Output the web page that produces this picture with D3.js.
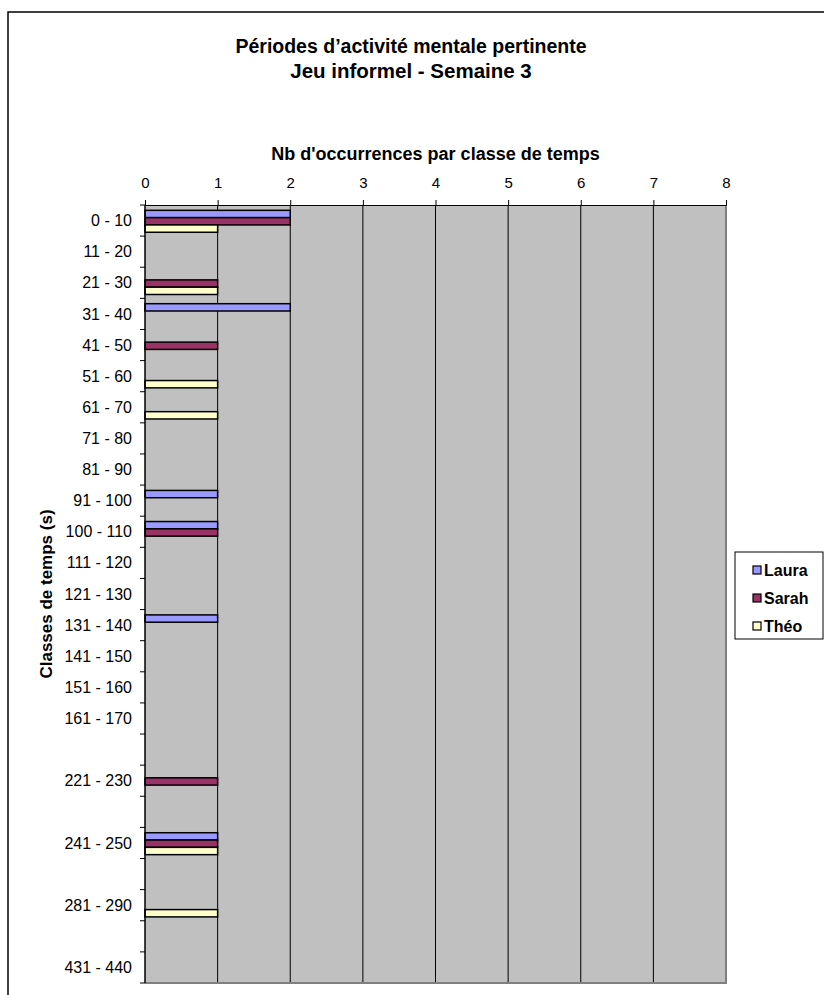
<!DOCTYPE html>
<html>
<head>
<meta charset="utf-8">
<script src="https://cdn.jsdelivr.net/npm/d3@7"></script>
<style>
  html, body { margin: 0; padding: 0; background: #fff; }
  svg { display: block; font-family: "Liberation Sans", Arial, sans-serif; }
</style>
</head>
<body>
<svg id="chart" width="824" height="995"></svg>
<script>
// Time classes (seconds); empty strings are rows without a label
const categories = [
  "0 - 10", "11 - 20", "21 - 30", "31 - 40", "41 - 50", "51 - 60",
  "61 - 70", "71 - 80", "81 - 90", "91 - 100", "100 - 110", "111 - 120",
  "121 - 130", "131 - 140", "141 - 150", "151 - 160", "161 - 170", "",
  "221 - 230", "", "241 - 250", "", "281 - 290", "", "431 - 440"
];
const seriesNames = ["Laura", "Sarah", "Théo"];
const seriesColors = ["#9999ff", "#993366", "#ffffcc"];
const laura = [2, 0, 0, 2, 0, 0, 0, 0, 0, 1, 1, 0, 0, 1, 0, 0, 0, 0, 0, 0, 1, 0, 0, 0, 0];
const sarah = [2, 0, 1, 0, 1, 0, 0, 0, 0, 0, 1, 0, 0, 0, 0, 0, 0, 0, 1, 0, 1, 0, 0, 0, 0];
const theo  = [1, 0, 1, 0, 0, 1, 1, 0, 0, 0, 0, 0, 0, 0, 0, 0, 0, 0, 0, 0, 1, 0, 1, 0, 0];
const xTicks = [0, 1, 2, 3, 4, 5, 6, 7, 8];

const titleLine1 = "Périodes d’activité mentale pertinente";
const titleLine2 = "Jeu informel - Semaine 3";
const xTitle = "Nb d'occurrences par classe de temps";
const yTitle = "Classes de temps (s)";

const seriesValues = [laura, sarah, theo];

const svg = d3.select("#chart");
const plot = { left: 145, right: 726, top: 205, bottom: 983 };

// Outer chart frame (runs past the right and bottom edges)
svg.append("rect")
  .attr("x", 8).attr("y", 12)
  .attr("width", 900).attr("height", 1100)
  .attr("fill", "none").attr("stroke", "#000").attr("stroke-width", 1.5);

// Titles
svg.append("text").attr("x", 411).attr("y", 53)
  .attr("text-anchor", "middle").attr("font-weight", "bold").attr("font-size", 19.5)
  .text(titleLine1);
svg.append("text").attr("x", 411).attr("y", 78)
  .attr("text-anchor", "middle").attr("font-weight", "bold").attr("font-size", 20.5)
  .text(titleLine2);

const x = d3.scaleLinear().domain([0, 8]).range([plot.left, plot.right]);
const idx = d3.range(categories.length);
const y = d3.scaleBand().domain(idx).range([plot.top, plot.bottom]).paddingInner(0).paddingOuter(0);
const ySub = d3.scaleBand().domain(seriesNames).range([0, y.bandwidth()])
  .paddingInner(0).paddingOuter(0.63).align(0.58);

// Plot area background
svg.append("rect")
  .attr("x", plot.left).attr("y", plot.top)
  .attr("width", plot.right - plot.left).attr("height", plot.bottom - plot.top)
  .attr("fill", "#c0c0c0");

// Vertical gridlines
svg.append("g").selectAll("line")
  .data(xTicks.filter(d => d > 0 && d < 8))
  .join("line")
  .attr("x1", d => x(d)).attr("x2", d => x(d))
  .attr("y1", plot.top).attr("y2", plot.bottom)
  .attr("stroke", "#000").attr("stroke-width", 1);

// Plot area border (right and bottom)
svg.append("path")
  .attr("d", `M${plot.right},${plot.top}V${plot.bottom}H${plot.left}`)
  .attr("fill", "none").attr("stroke", "#808080").attr("stroke-width", 2);

// Bars
const rows = idx.map(i => ({ i, values: seriesNames.map((s, k) => ({ s, k, v: seriesValues[k][i] })) }));
svg.append("g").selectAll("g")
  .data(rows)
  .join("g")
  .attr("transform", d => `translate(0,${y(d.i)})`)
  .selectAll("rect")
  .data(d => d.values.filter(e => e.v > 0))
  .join("rect")
  .attr("x", x(0))
  .attr("y", e => ySub(e.s))
  .attr("width", e => x(e.v) - x(0))
  .attr("height", ySub.bandwidth())
  .attr("fill", e => seriesColors[e.k])
  .attr("stroke", "#000").attr("stroke-width", 1.5);

// Top value axis
const xAxis = d3.axisTop(x).tickValues(xTicks).tickSize(5).tickPadding(12).tickFormat(d3.format("d"));
const gx = svg.append("g").attr("transform", `translate(0,${plot.top})`).call(xAxis);
gx.select(".domain").attr("stroke", "#000");
gx.selectAll(".tick line").attr("stroke", "#000");
gx.selectAll(".tick text").attr("font-size", 15).attr("font-family", "Liberation Sans, Arial, sans-serif").attr("fill", "#000");

svg.append("text").attr("x", (plot.left + plot.right) / 2).attr("y", 160)
  .attr("text-anchor", "middle").attr("font-weight", "bold").attr("font-size", 18)
  .text(xTitle);

// Left category axis: ticks at band boundaries, labels centred in bands
const gy = svg.append("g").attr("transform", `translate(${plot.left},0)`);
gy.append("line").attr("x1", 0).attr("x2", 0).attr("y1", plot.top).attr("y2", plot.bottom)
  .attr("stroke", "#000").attr("stroke-width", 1.5);
gy.selectAll("line.tk")
  .data(d3.range(categories.length + 1))
  .join("line").attr("class", "tk")
  .attr("x1", -5).attr("x2", 0)
  .attr("y1", i => plot.top + i * y.step()).attr("y2", i => plot.top + i * y.step())
  .attr("stroke", "#000");
gy.selectAll("text")
  .data(idx)
  .join("text")
  .attr("x", -13)
  .attr("y", i => y(i) + y.bandwidth() / 2)
  .attr("dy", "0.35em")
  .attr("text-anchor", "end")
  .attr("font-size", 16)
  .text(i => categories[i]);

svg.append("text")
  .attr("transform", `translate(46,${(plot.top + plot.bottom) / 2}) rotate(-90)`)
  .attr("text-anchor", "middle").attr("dy", "0.35em")
  .attr("font-weight", "bold").attr("font-size", 17)
  .text(yTitle);

// Legend
const lg = svg.append("g").attr("transform", "translate(735,552)");
lg.append("rect").attr("width", 88).attr("height", 87)
  .attr("fill", "#fff").attr("stroke", "#000").attr("stroke-width", 1);
const items = lg.selectAll("g.item").data(seriesNames).join("g").attr("class", "item")
  .attr("transform", (d, k) => `translate(18,${14 + k * 28})`);
items.append("rect").attr("width", 8).attr("height", 8)
  .attr("fill", (d, k) => seriesColors[k]).attr("stroke", "#000").attr("stroke-width", 1.2);
items.append("text").attr("x", 11).attr("y", 4).attr("dy", "0.36em")
  .attr("font-weight", "bold").attr("font-size", 16)
  .text(d => d);
</script>
</body>
</html>
